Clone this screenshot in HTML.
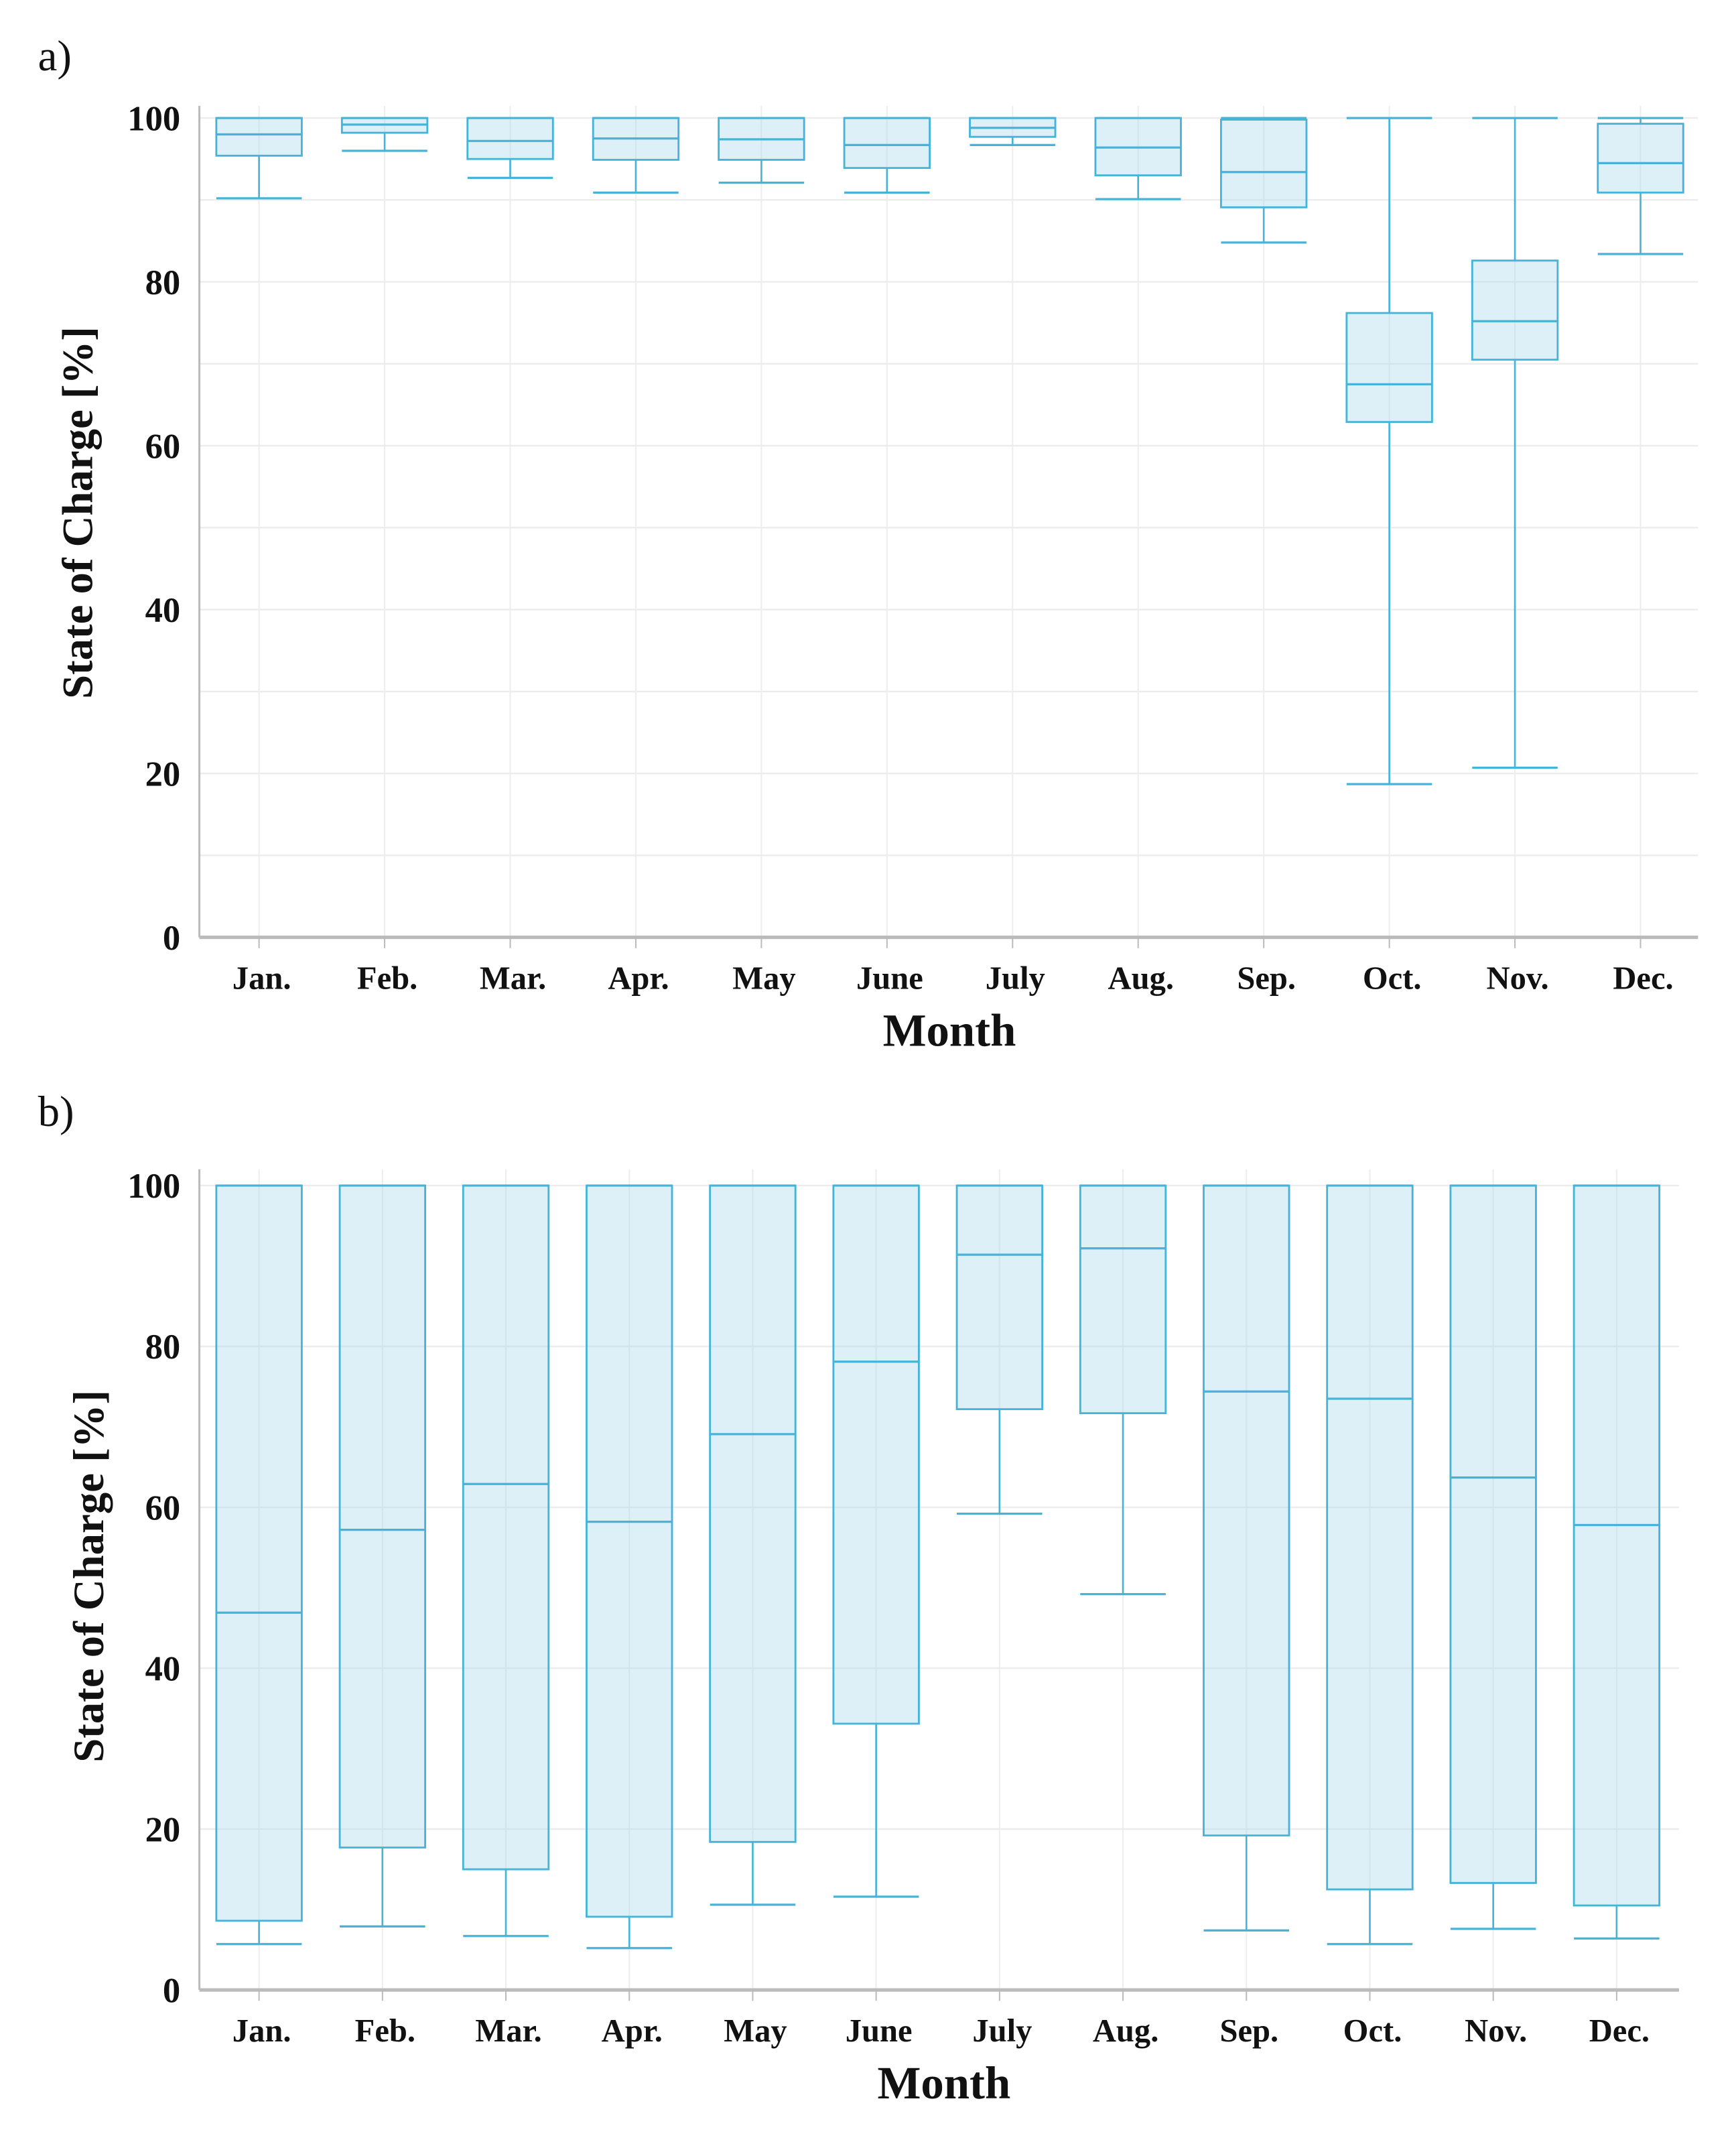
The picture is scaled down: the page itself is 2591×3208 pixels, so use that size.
<!DOCTYPE html>
<html><head><meta charset="utf-8"><style>
html,body{margin:0;padding:0;background:#fff}
svg{display:block}
text{font-family:"Liberation Serif",serif;fill:#111}
</style></head><body>
<svg id="s" width="2591" height="3208" viewBox="0 0 1280 1585" preserveAspectRatio="none" xmlns="http://www.w3.org/2000/svg">
<text x="28" y="52" font-size="32">a)</text>
<text x="28" y="830" font-size="32">b)</text>
<g id="ga"></g>
<g id="gb"></g>
</svg>
<script>
const months = ["Jan.","Feb.","Mar.","Apr.","May","June","July","Aug.","Sep.","Oct.","Nov.","Dec."];
const yTicks = [0,20,40,60,80,100];
// chart a
const aMin = [90.2,96.0,92.7,90.9,92.1,90.9,96.7,90.1,84.8,18.7,20.7,83.4];
const aQ1  = [95.4,98.2,95.0,94.9,94.9,93.9,97.7,93.0,89.1,62.9,70.5,90.9];
const aMed = [98.0,99.2,97.2,97.5,97.4,96.7,98.8,96.4,93.4,67.5,75.2,94.5];
const aQ3  = [100,100,100,100,100,100,100,100,99.8,76.2,82.6,99.3];
const aMax = [100,100,100,100,100,100,100,100,100,100,100,100];
// chart b
const bMin = [5.7,7.9,6.7,5.2,10.6,11.6,59.2,49.2,7.4,5.7,7.6,6.4];
const bQ1  = [8.6,17.7,15.0,9.1,18.4,33.1,72.2,71.7,19.2,12.5,13.3,10.5];
const bMed = [46.9,57.2,62.9,58.2,69.1,78.1,91.4,92.2,74.4,73.5,63.7,57.8];
const bQ3  = [100,100,100,100,100,100,100,100,100,100,100,100];
const bMax = [100,100,100,100,100,100,100,100,100,100,100,100];

const NS="http://www.w3.org/2000/svg";
function mk(parent,tag,attrs,txt){const e=document.createElementNS(NS,tag);for(const k in attrs)e.setAttribute(k,attrs[k]);if(txt!=null)e.textContent=txt;parent.appendChild(e);return e;}

function draw(g,cfg,mins,q1,med,q3,maxs,prefix){
  const L=cfg.left,R=cfg.right,T=cfg.top,B=cfg.bottom,y0=cfg.y0,y100=cfg.y100;
  const y=v=>y0-(y0-y100)*v/100;
  const x=i=>cfg.x0+i*cfg.dx;
  for(let v=cfg.minor;v<=100;v+=cfg.minor){const l=mk(g,'line',{x1:L,x2:R,y1:y(v),y2:y(v),stroke:'#ececec','stroke-width':1.2});
    }
  months.forEach((m,i)=>{const l=mk(g,'line',{x1:x(i),x2:x(i),y1:T,y2:B,stroke:'#ededed','stroke-width':1});
    });
  const ya=mk(g,'line',{x1:L,x2:L,y1:T,y2:B,stroke:'#bbb','stroke-width':1.5});
  
  const xa=mk(g,'line',{x1:L,x2:R,y1:B,y2:B,stroke:'#bbb','stroke-width':2.5});
  
  yTicks.forEach(v=>{
    const t=mk(g,'text',{x:L-14,y:y(v)+9,'text-anchor':'end','font-size':26,'font-weight':'bold'},v);
    
  });
  months.forEach((m,i)=>{
    const tk=mk(g,'line',{x1:x(i),x2:x(i),y1:B,y2:B+8,stroke:'#bbb','stroke-width':1});
    
    const t=mk(g,'text',{x:x(i)+2,y:B+38,'text-anchor':'middle','font-size':24,'font-weight':'bold'},m);
    
  });
  const xt=mk(g,'text',{x:cfg.xtx,y:B+80,'text-anchor':'middle','font-size':34,'font-weight':'bold'},'Month');
  
  const yt=mk(g,'text',{x:0,y:0,'text-anchor':'middle','font-size':32,'font-weight':'bold',transform:`translate(${cfg.ytx},${cfg.yty}) rotate(-90)`},'State of Charge  [%]');
  
  const hw=31.5, cw=31.5, col='#46b3d8';
  months.forEach((m,i)=>{
    const bg=mk(g,'g',{});
    
    
    const cx=x(i);
    mk(bg,'line',{x1:cx,x2:cx,y1:y(maxs[i]),y2:y(q3[i]),stroke:col,'stroke-width':1.3});
    mk(bg,'line',{x1:cx,x2:cx,y1:y(q1[i]),y2:y(mins[i]),stroke:col,'stroke-width':1.3});
    mk(bg,'line',{x1:cx-cw,x2:cx+cw,y1:y(maxs[i]),y2:y(maxs[i]),stroke:col,'stroke-width':1.6});
    mk(bg,'line',{x1:cx-cw,x2:cx+cw,y1:y(mins[i]),y2:y(mins[i]),stroke:col,'stroke-width':1.6});
    mk(bg,'rect',{x:cx-hw,y:y(q3[i]),width:2*hw,height:Math.max(0,y(q1[i])-y(q3[i])),fill:'rgba(173,216,236,0.42)',stroke:col,'stroke-width':1.4});
    mk(bg,'line',{x1:cx-hw,x2:cx+hw,y1:y(med[i]),y2:y(med[i]),stroke:col,'stroke-width':1.6});
  });
}
draw(document.getElementById('ga'),{left:147,right:1252,top:78,bottom:691,y0:691,y100:87,x0:191,dx:92.6,minor:10,xtx:700,ytx:68,yty:378},aMin,aQ1,aMed,aQ3,aMax,'a');
draw(document.getElementById('gb'),{left:147,right:1238,top:862,bottom:1467,y0:1467,y100:874,x0:191,dx:91,minor:20,xtx:696,ytx:76,yty:1162},bMin,bQ1,bMed,bQ3,bMax,'b');
</script>
</body></html>
